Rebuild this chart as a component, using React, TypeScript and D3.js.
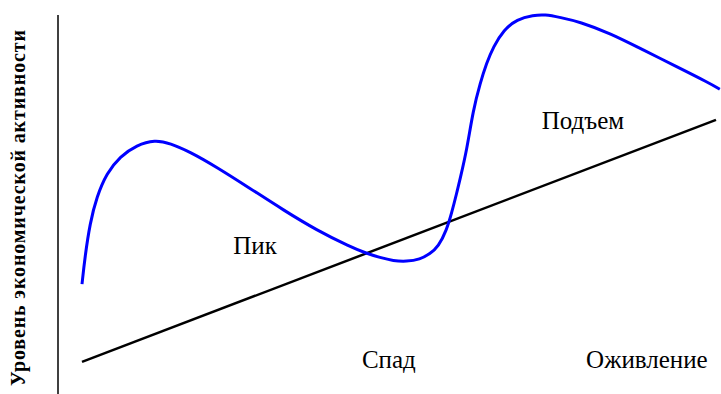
import React from "react";
import * as d3 from "d3";

// Business-cycle curve (time units 0..10, activity 0..100)
const cycleX = [0, 0.047, 0.126, 0.232, 0.39, 0.6, 0.863, 1.15, 1.39, 1.7, 2.12, 2.65, 3.18, 3.7, 4.23, 4.49, 4.7, 4.91, 5.12, 5.33, 5.49, 5.62, 5.75, 5.83, 5.91, 5.96, 6.07, 6.17, 6.28, 6.38, 6.49, 6.65, 6.86, 7.12, 7.3, 7.54, 7.85, 8.33, 8.85, 9.38, 9.9, 10.06];
const cycleY = [25.9, 33.3, 42.4, 49.5, 55.9, 60.4, 63.5, 64.9, 64.0, 61.7, 57.6, 51.8, 45.9, 40.5, 36.0, 34.2, 33.1, 32.2, 32.0, 32.6, 34.1, 36.0, 40.5, 45.1, 50.5, 54.1, 62.2, 73.0, 80.2, 85.6, 90.1, 94.6, 97.5, 98.6, 98.8, 98.0, 96.8, 93.7, 89.2, 84.7, 80.2, 78.6];

// Trend line
const trendX = [0, 10];
const trendY = [4.9, 70.3];

// Phase labels
const phaseNames = ["Пик", "Подъем", "Спад", "Оживление"];
const phaseX = [2.73, 7.9, 4.84, 8.91];
const phaseY = [34.1, 67.8, 3.2, 3.2];

const axisTitle = "Уровень экономической активности";

export default function App() {
  const W = 721, H = 394;
  const x = d3.scaleLinear().domain([0, 10]).range([82, 716]);
  const y = d3.scaleLinear().domain([0, 100]).range([380, 10]);

  const cycle = d3.line<number>()
    .x((_, i) => x(cycleX[i]))
    .y((_, i) => y(cycleY[i]))
    .curve(d3.curveBasis)(cycleX) || "";

  const trend = d3.line<number>()
    .x((_, i) => x(trendX[i]))
    .y((_, i) => y(trendY[i]))(trendX) || "";

  return (
    <svg width={W} height={H} style={{ position: "absolute", left: 0, top: 0 }}>
      <rect width={W} height={H} fill="#fff" />
      <line x1={58} x2={58} y1={15} y2={H} stroke="#000" strokeWidth={1.5} />
      <text
        transform="translate(25,386) rotate(-90)"
        fontFamily="'Liberation Serif', 'Times New Roman', serif"
        fontWeight="bold"
        fontSize={20}
        textLength={356}
        lengthAdjust="spacing"
        fill="#000"
      >
        {axisTitle}
      </text>
      <path d={trend} fill="none" stroke="#000" strokeWidth={2.5} />
      <path d={cycle} fill="none" stroke="#0000ff" strokeWidth={3} />
      {phaseNames.map((n, i) => (
        <text
          key={n}
          x={x(phaseX[i])}
          y={y(phaseY[i])}
          textAnchor="middle"
          fontFamily="'Liberation Serif', 'Times New Roman', serif"
          fontSize={25}
          fill="#000"
        >
          {n}
        </text>
      ))}
    </svg>
  );
}
